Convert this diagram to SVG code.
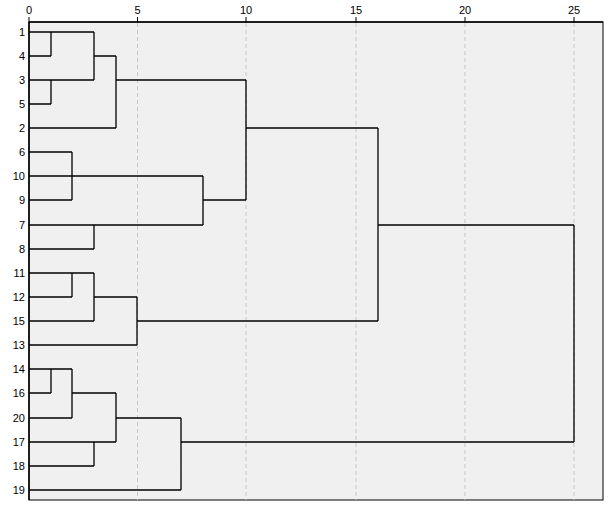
<svg xmlns="http://www.w3.org/2000/svg" width="610" height="507" viewBox="0 0 610 507">
<style>
text{font-family:"Liberation Sans",Arial,sans-serif;font-size:11px;fill:#000}
.g{stroke:#c8c8c8;stroke-dasharray:4,3;stroke-width:1}
.c{fill:none;stroke:#000;stroke-width:1.3}
</style>
<rect width="610" height="507" fill="#fff"/>
<rect x="29" y="22" width="574" height="478" fill="#f0f0f0" stroke="#000" stroke-width="1"/>
<g id="grid">
<line class="g" x1="137.5" y1="23" x2="137.5" y2="500"/>
<line class="g" x1="246" y1="23" x2="246" y2="500"/>
<line class="g" x1="356" y1="23" x2="356" y2="500"/>
<line class="g" x1="465" y1="23" x2="465" y2="500"/>
<line class="g" x1="574" y1="23" x2="574" y2="500"/>
</g>
<g id="axis">
<line x1="29" y1="22" x2="603" y2="22" stroke="#000" stroke-width="1.5"/>
<line x1="29" y1="22" x2="29" y2="500" stroke="#000" stroke-width="1.5"/>
<g stroke="#000"><line x1="29" y1="17" x2="29" y2="22"/><line x1="137.5" y1="17" x2="137.5" y2="22"/><line x1="246" y1="17" x2="246" y2="22"/><line x1="356" y1="17" x2="356" y2="22"/><line x1="465" y1="17" x2="465" y2="22"/><line x1="574" y1="17" x2="574" y2="22"/></g>
<g text-anchor="middle"><text x="29" y="14">0</text><text x="137.5" y="14">5</text><text x="246" y="14">10</text><text x="356" y="14">15</text><text x="465" y="14">20</text><text x="574" y="14">25</text></g>
</g>
<g id="labels" text-anchor="end">
<text x="25" y="36">1</text><text x="25" y="60">4</text><text x="25" y="84">3</text><text x="25" y="108">5</text><text x="25" y="132">2</text>
<text x="25" y="156">6</text><text x="25" y="180">10</text><text x="25" y="204">9</text><text x="25" y="229">7</text><text x="25" y="253">8</text>
<text x="25" y="277">11</text><text x="25" y="301">12</text><text x="25" y="325">15</text><text x="25" y="349">13</text>
<text x="25" y="373">14</text><text x="25" y="397">16</text><text x="25" y="422">20</text><text x="25" y="446">17</text><text x="25" y="470">18</text><text x="25" y="494">19</text>
</g>
<g id="connectors" class="c">
<path class="c" d="M29 32H94M29 56H51M51 32V56M29 80H94M29 104H51M51 80V104M94 32V80M94 56H116M29 128H116M116 56V128M116 80H246"/>
<path class="c" d="M29 152H72M29 200H72M72 152V200M29 176H203M29 225H203M29 249H94M94 225V249M203 176V225M203 200H246M246 80V200M246 128H378"/>
<path class="c" d="M29 273H94M29 297H72M72 273V297M29 321H94M94 273V321M94 297H137M29 345H137M137 297V345M137 321H378M378 128V321M378 225H574"/>
<path class="c" d="M29 369H72M29 393H51M51 369V393M72 369V418M29 418H72M72 393H116M29 442H116M29 466H94M94 442V466M116 393V442M116 418H181M29 490H181M181 418V490M181 442H574M574 225V442"/>
</g>
</svg>
